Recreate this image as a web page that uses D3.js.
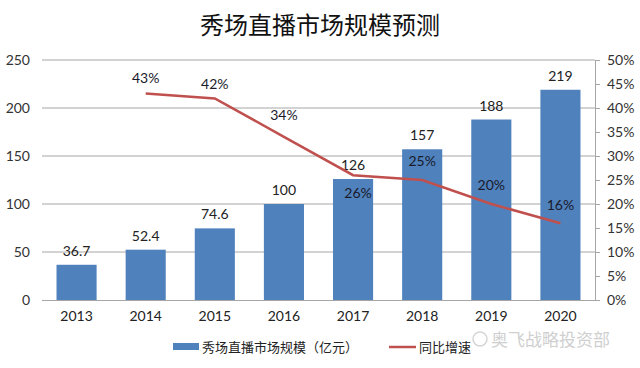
<!DOCTYPE html>
<html><head><meta charset="utf-8">
<script src="https://cdn.jsdelivr.net/npm/d3@7"></script>
<style>body{margin:0;background:#fff}svg{display:block;font-family:Lato,"Liberation Sans","Noto Sans CJK SC",sans-serif}</style>
</head><body>
<svg id="c" width="640" height="368"></svg>
<script>
const years = ["2013","2014","2015","2016","2017","2018","2019","2020"];
const marketSize = [36.7,52.4,74.6,100,126,157,188,219];
const marketLabels = ["36.7","52.4","74.6","100","126","157","188","219"];
const growth = [null,0.43,0.42,0.34,0.26,0.25,0.20,0.16];
const growthLabels = ["","43%","42%","34%","26%","25%","20%","16%"];
const leftTicks = [0,50,100,150,200,250];
const rightTicks = [0,0.05,0.1,0.15,0.2,0.25,0.3,0.35,0.4,0.45,0.5];

const svg = d3.select("#c");
const L=42,R=595,T=60,B=300;
const x = d3.scaleBand().domain(years).range([L,R]).paddingInner(0.42).paddingOuter(0.21);
const y = d3.scaleLinear().domain([0,250]).range([B,T]);
const y2 = d3.scaleLinear().domain([0,0.5]).range([B,T]);
const cx = d => x(d)+x.bandwidth()/2;

svg.append("text").attr("x",320).attr("y",34).attr("text-anchor","middle")
  .style("font-family","'Noto Sans CJK SC',sans-serif").style("font-size","24px").attr("fill","#111")
  .text("秀场直播市场规模预测");

// gridlines
svg.append("g").selectAll("line").data(leftTicks.filter(d=>d>0)).join("line")
  .attr("x1",L).attr("x2",R).attr("y1",d=>y(d)).attr("y2",d=>y(d))
  .attr("stroke","#a6a6a6").attr("stroke-width",1);

// left axis
const gl = svg.append("g").attr("transform",`translate(${L},0)`)
  .call(d3.axisLeft(y).tickValues(leftTicks).tickSize(0).tickPadding(12));
gl.select(".domain").remove();
gl.selectAll("text").style("font-family","Lato,sans-serif").style("font-size","14px").attr("fill","#333");

// right axis
const gr = svg.append("g").attr("transform",`translate(${R},0)`)
  .call(d3.axisRight(y2).tickValues(rightTicks).tickSize(5).tickPadding(7).tickFormat(d3.format(".0%")));
gr.select(".domain").attr("stroke","#a6a6a6");
gr.selectAll(".tick line").attr("stroke","#a6a6a6");
gr.selectAll("text").style("font-family","Lato,sans-serif").style("font-size","14px").attr("fill","#333");

// bars
svg.append("g").selectAll("rect").data(years).join("rect")
  .attr("x",d=>x(d)).attr("width",x.bandwidth())
  .attr("y",(d,i)=>y(marketSize[i])).attr("height",(d,i)=>B-y(marketSize[i]))
  .attr("fill","#4F81BD");

// baseline
svg.append("line").attr("x1",L).attr("x2",R).attr("y1",B+0.5).attr("y2",B+0.5).attr("stroke","#a6a6a6");

// x labels
svg.append("g").selectAll("text").data(years).join("text")
  .attr("x",d=>cx(d)).attr("y",321).attr("text-anchor","middle")
  .style("font-size","14px").attr("fill","#222").text(d=>d);

// bar labels
svg.append("g").selectAll("text").data(years).join("text")
  .attr("x",d=>cx(d)).attr("y",(d,i)=>y(marketSize[i])-9).attr("text-anchor","middle")
  .style("font-size","14px").attr("fill","#222").text((d,i)=>marketLabels[i]);

// line
const pts = years.map((d,i)=>({d,v:growth[i],l:growthLabels[i]})).filter(p=>p.v!=null);
svg.append("path").datum(pts)
  .attr("d",d3.line().x(p=>cx(p.d)).y(p=>y2(p.v)))
  .attr("fill","none").attr("stroke","#C0504D").attr("stroke-width",2.5);

const offs = {"2014":-11,"2015":-9,"2016":-17,"2017":23,"2018":-14,"2019":-14,"2020":-13};
const dxs = {"2014":0,"2015":0,"2016":0,"2017":5,"2018":0,"2019":0,"2020":0};
svg.append("g").selectAll("text").data(pts).join("text")
  .attr("x",p=>cx(p.d)+dxs[p.d]).attr("y",p=>y2(p.v)+offs[p.d]).attr("text-anchor","middle")
  .style("font-size","14px").attr("fill","#1a1a2a").text(p=>p.l);

// legend
svg.append("rect").attr("x",173).attr("y",343).attr("width",26).attr("height",7).attr("fill","#4F81BD");
svg.append("text").attr("x",202).attr("y",352).style("font-family","'Noto Sans CJK SC',sans-serif")
  .style("font-size","13px").attr("fill","#222").text("秀场直播市场规模（亿元）");
svg.append("line").attr("x1",389).attr("x2",416).attr("y1",347).attr("y2",347).attr("stroke","#C0504D").attr("stroke-width",2.5);
svg.append("text").attr("x",419).attr("y",352).style("font-family","'Noto Sans CJK SC',sans-serif")
  .style("font-size","13px").attr("fill","#222").text("同比增速");

// watermark
svg.append("text").attr("x",491).attr("y",346).style("font-family","'Noto Sans CJK SC',sans-serif")
  .style("font-size","17px").attr("fill","#cfcfcf").text("奥飞战略投资部");
svg.append("circle").attr("cx",480).attr("cy",339).attr("r",7).attr("fill","none").attr("stroke","#d5d5d5").attr("stroke-width",1.5);
</script>
</body></html>
